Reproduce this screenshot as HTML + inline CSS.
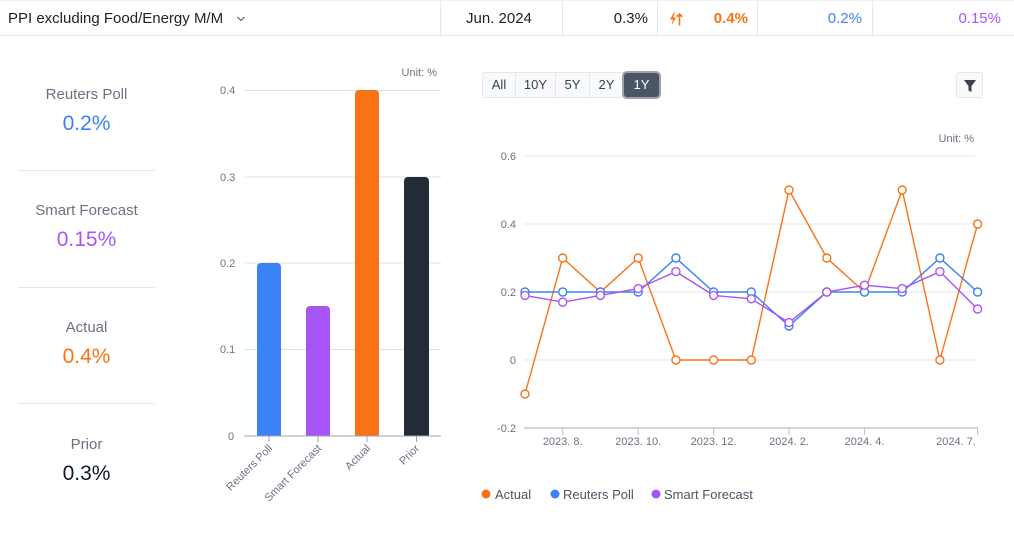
<!DOCTYPE html>
<html><head><meta charset="utf-8">
<style>
*{margin:0;padding:0;box-sizing:border-box}
body{width:1014px;height:534px;background:#fff;font-family:"Liberation Sans",sans-serif;position:relative;overflow:hidden;color:#1f2937}
.hdr{position:absolute;left:0;top:0;width:1014px;height:36px;border-bottom:1px solid #e5e7eb;border-top:1px solid #f0f0f0}
.hdr span{position:absolute;top:9px;font-size:15px;white-space:nowrap}
.sep{position:absolute;top:0;width:1px;height:36px;background:#e5e7eb}
.lp{position:absolute;left:18px;width:137px;text-align:center}
.lbl{font-size:15px;color:#6b7280}
.val{font-size:21px;margin-top:9px}
.div{position:absolute;left:18px;width:137px;height:1px;background:#e5e7eb}
.btns{position:absolute;left:482px;top:72px;height:26px;display:flex;border:1px solid #e5e7eb;border-radius:3px;background:#f9fafb}
.btns div{font-size:13px;color:#374151;line-height:24px;text-align:center;border-right:1px solid #e5e7eb}
.btns .act{background:#4b5563;color:#fff;border-radius:3px;box-shadow:0 0 0 2px #9ca3af;border-right:none}
.filt{position:absolute;left:956px;top:72px;width:27px;height:26px;border:1px solid #e5e7eb;border-radius:3px;background:#f9fafb}
</style></head><body>
<div class="hdr">
<span style="left:8px;color:#222">PPI excluding Food/Energy M/M</span>
<svg style="position:absolute;left:236px;top:14px" width="10" height="8" viewBox="0 0 10 8"><path d="M1.5 2 L5 5.5 L8.5 2" fill="none" stroke="#555" stroke-width="1.1"/></svg>
<div class="sep" style="left:440px"></div>
<span style="left:466px;color:#222">Jun. 2024</span>
<div class="sep" style="left:562px"></div>
<span style="right:366px;color:#222">0.3%</span>
<div class="sep" style="left:657px"></div>
<svg style="position:absolute;left:668px;top:10px" width="16" height="16" viewBox="0 0 16 16"><path d="M6 1 L2 8.5 H5 L3.5 14.5 L8 6.5 H5.2 L6.8 1Z" fill="#f97316"/><path d="M11.5 14.5 V3 M8.8 5.8 L11.5 3 L14.2 5.8" fill="none" stroke="#f97316" stroke-width="1.6"/></svg>
<span style="right:266px;color:#f97316;font-weight:bold">0.4%</span>
<div class="sep" style="left:757px"></div>
<span style="right:152px;color:#3b82f6">0.2%</span>
<div class="sep" style="left:872px"></div>
<span style="right:13px;color:#a855f7">0.15%</span>
</div>

<div class="lp" style="top:86px"><div class="lbl">Reuters Poll</div><div class="val" style="color:#3b82f6">0.2%</div></div>
<div class="div" style="top:170px"></div>
<div class="lp" style="top:202px"><div class="lbl">Smart Forecast</div><div class="val" style="color:#a855f7">0.15%</div></div>
<div class="div" style="top:287px"></div>
<div class="lp" style="top:319px"><div class="lbl">Actual</div><div class="val" style="color:#f97316">0.4%</div></div>
<div class="div" style="top:403px"></div>
<div class="lp" style="top:436px"><div class="lbl">Prior</div><div class="val" style="color:#111827">0.3%</div></div>

<div class="btns">
<div style="width:33px">All</div><div style="width:40px">10Y</div><div style="width:34px">5Y</div><div style="width:34px">2Y</div><div class="act" style="width:35px">1Y</div>
</div>
<div class="filt"><svg width="27" height="26" viewBox="0 0 27 26"><path d="M7 7 H19 L14.5 13 V19 L11.5 17.5 V13 Z" fill="#374151"/></svg></div>

<svg style="position:absolute;left:0;top:0" width="1014" height="534" font-family="Liberation Sans, sans-serif">
<!-- bar chart -->
<text x="437" y="76" font-size="11" fill="#6b7280" text-anchor="end">Unit: %</text>
<g stroke="#e0e0e0" stroke-width="1">
<line x1="244" y1="90.5" x2="441" y2="90.5"/>
<line x1="244" y1="177" x2="441" y2="177"/>
<line x1="244" y1="263" x2="441" y2="263"/>
<line x1="244" y1="349.5" x2="441" y2="349.5"/>
</g>
<g font-size="11" fill="#6b7280">
<text x="220" y="94">0.4</text>
<text x="220" y="181">0.3</text>
<text x="220" y="267">0.2</text>
<text x="220" y="353">0.1</text>
<text x="228" y="440">0</text>
</g>
<path d="M257 436 V267 a4 4 0 0 1 4 -4 H277 a4 4 0 0 1 4 4 V436Z" fill="#3b82f6"/>
<path d="M306 436 V310 a4 4 0 0 1 4 -4 H326 a4 4 0 0 1 4 4 V436Z" fill="#a855f7"/>
<path d="M355 436 V94 a4 4 0 0 1 4 -4 H375 a4 4 0 0 1 4 4 V436Z" fill="#f97316"/>
<path d="M404 436 V181 a4 4 0 0 1 4 -4 H425 a4 4 0 0 1 4 4 V436Z" fill="#222b36"/>
<line x1="244" y1="436" x2="441" y2="436" stroke="#9ca3af"/>
<g stroke="#9ca3af"><line x1="269" y1="436" x2="269" y2="442"/><line x1="318" y1="436" x2="318" y2="442"/><line x1="367" y1="436" x2="367" y2="442"/><line x1="416.5" y1="436" x2="416.5" y2="442"/></g>
<g font-size="11" fill="#6b7280" text-anchor="end">
<text transform="translate(273,449) rotate(-45)">Reuters Poll</text>
<text transform="translate(322,449) rotate(-45)">Smart Forecast</text>
<text transform="translate(371,449) rotate(-45)">Actual</text>
<text transform="translate(420,449) rotate(-45)">Prior</text>
</g>

<!-- line chart -->
<text x="974" y="142" font-size="11" fill="#6b7280" text-anchor="end">Unit: %</text>
<g stroke="#e5e7eb" stroke-width="1">
<line x1="524" y1="156" x2="975" y2="156"/>
<line x1="524" y1="224" x2="975" y2="224"/>
<line x1="524" y1="292" x2="975" y2="292"/>
<line x1="524" y1="360" x2="975" y2="360"/>
</g>
<g font-size="11" fill="#6b7280" text-anchor="end">
<text x="516" y="160">0.6</text>
<text x="516" y="228">0.4</text>
<text x="516" y="296">0.2</text>
<text x="516" y="364">0</text>
<text x="516" y="432">-0.2</text>
</g>
<line x1="524" y1="428" x2="978" y2="428" stroke="#c4c8ce" stroke-width="1.5"/>
<g stroke="#c4c8ce" stroke-width="1.2">
<line x1="562.7" y1="428" x2="562.7" y2="435"/><line x1="638.2" y1="428" x2="638.2" y2="435"/><line x1="713.6" y1="428" x2="713.6" y2="435"/><line x1="789" y1="428" x2="789" y2="435"/><line x1="864.5" y1="428" x2="864.5" y2="435"/><line x1="977.6" y1="428" x2="977.6" y2="435"/>
</g>
<g font-size="11" fill="#6b7280" text-anchor="middle">
<text x="562.7" y="445">2023. 8.</text>
<text x="638.2" y="445">2023. 10.</text>
<text x="713.6" y="445">2023. 12.</text>
<text x="789" y="445">2024. 2.</text>
<text x="864.5" y="445">2024. 4.</text>
<text x="956" y="445">2024. 7.</text>
</g>
<g fill="#fff" stroke-width="1.4">
<polyline fill="none" stroke="#f97316" points="525,394 562.7,258 600.4,292 638.2,258 675.9,360 713.6,360 751.3,360 789,190 826.8,258 864.5,292 902.2,190 939.9,360 977.6,224"/>
<g stroke="#f97316">
<circle cx="525" cy="394" r="4"/><circle cx="562.7" cy="258" r="4"/><circle cx="600.4" cy="292" r="4"/><circle cx="638.2" cy="258" r="4"/><circle cx="675.9" cy="360" r="4"/><circle cx="713.6" cy="360" r="4"/><circle cx="751.3" cy="360" r="4"/><circle cx="789" cy="190" r="4"/><circle cx="826.8" cy="258" r="4"/><circle cx="864.5" cy="292" r="4"/><circle cx="902.2" cy="190" r="4"/><circle cx="939.9" cy="360" r="4"/><circle cx="977.6" cy="224" r="4"/>
</g>
<polyline fill="none" stroke="#3b82f6" points="525,292 562.7,292 600.4,292 638.2,292 675.9,258 713.6,292 751.3,292 789,326 826.8,292 864.5,292 902.2,292 939.9,258 977.6,292"/>
<g stroke="#3b82f6">
<circle cx="525" cy="292" r="4"/><circle cx="562.7" cy="292" r="4"/><circle cx="600.4" cy="292" r="4"/><circle cx="638.2" cy="292" r="4"/><circle cx="675.9" cy="258" r="4"/><circle cx="713.6" cy="292" r="4"/><circle cx="751.3" cy="292" r="4"/><circle cx="789" cy="326" r="4"/><circle cx="826.8" cy="292" r="4"/><circle cx="864.5" cy="292" r="4"/><circle cx="902.2" cy="292" r="4"/><circle cx="939.9" cy="258" r="4"/><circle cx="977.6" cy="292" r="4"/>
</g>
<polyline fill="none" stroke="#a855f7" points="525,295.4 562.7,302.2 600.4,295.4 638.2,288.6 675.9,271.6 713.6,295.4 751.3,298.8 789,322.6 826.8,292 864.5,285.2 902.2,288.6 939.9,271.6 977.6,309"/>
<g stroke="#a855f7">
<circle cx="525" cy="295.4" r="4"/><circle cx="562.7" cy="302.2" r="4"/><circle cx="600.4" cy="295.4" r="4"/><circle cx="638.2" cy="288.6" r="4"/><circle cx="675.9" cy="271.6" r="4"/><circle cx="713.6" cy="295.4" r="4"/><circle cx="751.3" cy="298.8" r="4"/><circle cx="789" cy="322.6" r="4"/><circle cx="826.8" cy="292" r="4"/><circle cx="864.5" cy="285.2" r="4"/><circle cx="902.2" cy="288.6" r="4"/><circle cx="939.9" cy="271.6" r="4"/><circle cx="977.6" cy="309" r="4"/>
</g>
</g>
<!-- legend -->
<circle cx="486" cy="494" r="4.5" fill="#f97316"/>
<text x="495" y="499" font-size="13" fill="#4b5563">Actual</text>
<circle cx="555" cy="494" r="4.5" fill="#3b82f6"/>
<text x="563" y="499" font-size="13" fill="#4b5563">Reuters Poll</text>
<circle cx="656" cy="494" r="4.5" fill="#a855f7"/>
<text x="664" y="499" font-size="13" fill="#4b5563">Smart Forecast</text>
</svg>
</body></html>
